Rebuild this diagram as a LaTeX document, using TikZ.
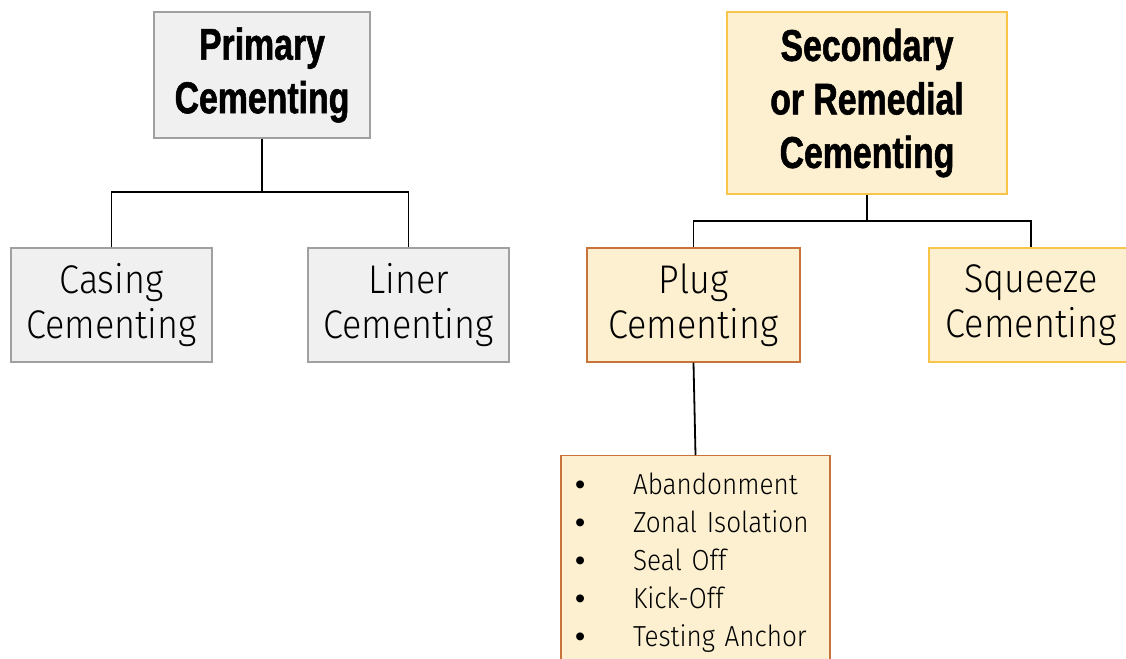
\documentclass[tikz,border=0pt]{standalone}
\usepackage{fontspec}
\usepackage{xcolor}
\usepackage{tikz}
\usetikzlibrary{positioning,calc}
\newfontfamily\headfont{Liberation Sans}[FakeStretch=0.76, FakeBold=1.2]
\newfontfamily\thinfont{Fira Sans Light}[FakeStretch=0.9]
\newfontfamily\dotfont{Liberation Sans}
\newcommand{\itemdot}{\makebox[58pt][l]{\dotfont\textbullet}}
\definecolor{cemgray}{RGB}{240,240,240}
\definecolor{cemgrayline}{RGB}{160,160,160}
\definecolor{cemcream}{RGB}{252,240,208}
\definecolor{cemgold}{RGB}{248,196,74}
\definecolor{cemrust}{RGB}{200,115,58}

\begin{document}
\begin{tikzpicture}[
        x=1pt, y=-1pt,
        grey/.style={draw=cemgrayline, fill=cemgray, line width=1.2pt, inner sep=0pt, align=center},
        cream/.style={draw=cemgold, fill=cemcream, line width=1.2pt, inner sep=0pt, align=center},
        rust/.style={draw=cemrust, fill=cemcream, line width=1.2pt, inner sep=0pt, align=center},
        head/.style={font=\headfont\bfseries\fontsize{44.5}{53.5}\selectfont},
        sub/.style={font=\thinfont\fontsize{40}{45}\selectfont, minimum width=201pt, minimum height=114pt},
        link/.style={draw=black, line width=1.8pt}
    ]
        \useasboundingbox (0,0) rectangle (1126,658);
        \clip (0,0) rectangle (1126,658);

        % Nodes
        \node (primary) [grey, head, minimum width=216pt, minimum height=126pt] at (262,75) {Primary\\Cementing};
        \node (casing) [grey, sub] at (111.5,305) {Casing\\Cementing};
        \node (liner) [grey, sub] at (408.5,305) {Liner\\Cementing};

        \node (secondary) [cream, head, minimum width=280pt, minimum height=182pt] at (867,103) {Secondary\\or Remedial\\Cementing};
        \node (plug) [rust, sub, minimum width=213pt] at (693.5,305) {Plug\\Cementing};
        \node (squeeze) [cream, sub, minimum width=204pt] at (1031,305) {Squeeze\\Cementing};

        \node (uses) [rust, anchor=north, text width=241pt, inner xsep=14pt, inner ysep=17pt, align=left,
            font=\thinfont\fontsize{29}{38}\selectfont] at (695.5,455)
            {\itemdot Abandonment\\
             \itemdot Zonal Isolation\\
             \itemdot Seal Off\\
             \itemdot Kick-Off\\
             \itemdot Testing Anchor};

        % Connectors
        \coordinate (pbar) at (0,192);
        \coordinate (sbar) at (0,221);
        \draw [link] (primary.south) -- (primary.south |- pbar);
        \draw [link] (casing.north) |- (primary.south |- pbar) -| (liner.north);
        \draw [link] (secondary.south) -- (secondary.south |- sbar);
        \draw [link] (plug.north) |- (secondary.south |- sbar) -| (squeeze.north);
        \draw [link] (plug.south) -- (uses.north);
    \end{tikzpicture}
\end{document}
